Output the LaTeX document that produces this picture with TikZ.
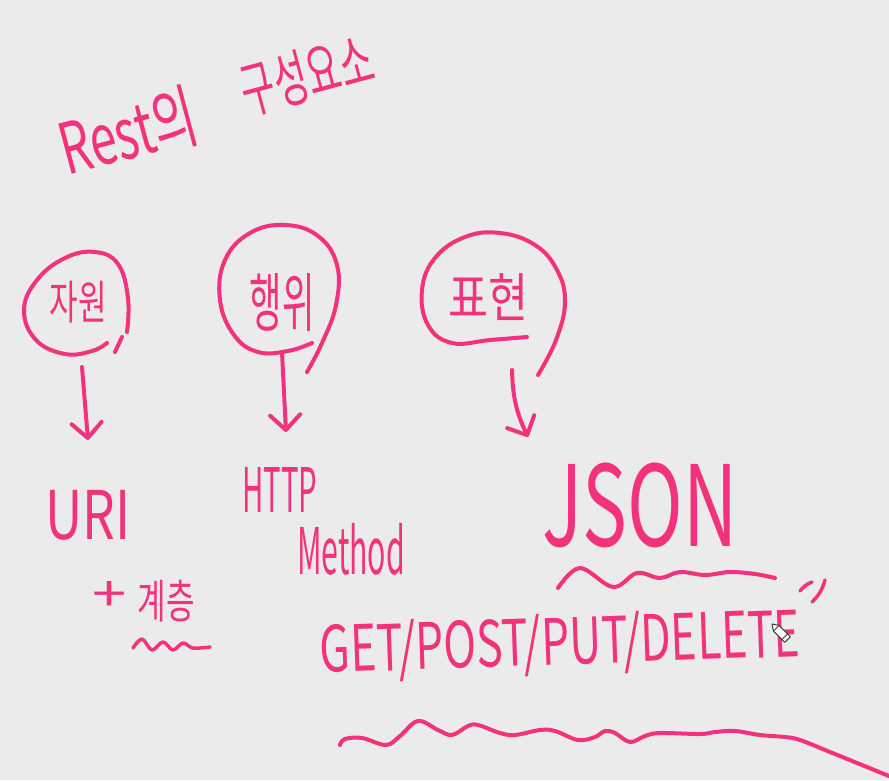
\documentclass[tikz,border=0pt]{standalone}
\usepackage{fontspec}
\setmainfont{Noto Sans CJK KR}
\usetikzlibrary{arrows.meta}
\definecolor{pen}{HTML}{F2337C}
\definecolor{paper}{HTML}{EBEBEB}
\newcommand\fitbox[3]{\resizebox*{#1pt}{#2pt}{#3}}
\begin{document}
\begin{tikzpicture}[x=1pt,y=-1pt,
  ink/.style={draw=pen, line width=4pt, line cap=round, line join=round},
  lbl/.style={text=pen, inner sep=0pt},
  vhead/.style={-{Straight Barb[length=15pt,width=30pt,round]}}]
\fill[paper] (0,0) rectangle (889,780);
\useasboundingbox (0,0) rectangle (889,780);

% title
\node[lbl, rotate=15] (t1) at (128,132) {\fitbox{140}{64}{Rest의}};
\node[lbl, rotate=15] (t2) at (307,75) {\fitbox{135}{55}{구성요소}};

% bubble labels
\node[lbl] (jaweon) at (78,302) {\fitbox{57}{42}{자원}};
\node[lbl] (haengwi) at (282,302) {\fitbox{65}{58}{행위}};
\node[lbl] (pyohyeon) at (488,297) {\fitbox{80}{47}{표현}};

% bubbles (open hand-drawn loops)
\draw[ink] plot[smooth, tension=0.7] coordinates {(127,332) (128,298) (118,264) (95,252) (65,258) (37,280) (24,310) (36,340) (65,354) (92,351) (107,343)};
\draw[ink] (122,337) -- (115,352);
\draw[ink] plot[smooth, tension=0.7] coordinates {(312,343) (288,351) (258,352) (234,335) (220,300) (225,260) (250,233) (285,225) (318,236) (337,265) (336,305) (322,343) (307,372)};
\draw[ink] plot[smooth, tension=0.7] coordinates {(527,337) (490,340) (452,343) (428,325) (422,290) (435,258) (465,237) (500,233) (535,245) (557,270) (565,302) (556,340) (538,375)};

% arrows
\coordinate (a1s) at (82,367);
\coordinate (a1e) at (88,440);
\coordinate (a2s) at (282,352);
\coordinate (a2e) at (286,432);
\coordinate (a3s) at (512,370);
\coordinate (a3e) at (528,437);
\draw[ink, vhead] (a1s) -- (a1e);
\draw[ink, vhead] (a2s) -- (a2e);
\draw[ink, vhead] (a3s) to[bend right=12] (a3e);

% targets
\node[lbl] (uri) at (88,515) {\fitbox{85}{50}{URI}};
\node[lbl] (http) at (280,490) {\fitbox{75}{45}{HTTP}};
\node[lbl] (method) at (351,549) {\fitbox{108}{52}{Method}};
\node[lbl] (json) at (640,505) {\fitbox{195}{85}{JSON}};
\node[lbl] (plus) at (110,596) {\fitbox{34}{30}{+}};
\node[lbl] (gyecheung) at (166,601) {\fitbox{57}{42}{계층}};
\node[lbl, rotate=2] (verbs) at (560,645) {\fitbox{480}{62}{GET/POST/PUT/DELETE}};

% underlines
\draw[ink] plot[smooth, tension=0.6] coordinates {(558,588) (580,568) (613,587) (637,573) (660,578) (680,572) (705,575) (730,572) (755,574) (775,578)};
\draw[ink, line width=3.5pt] plot[smooth, tension=0.6] coordinates {(133,648) (142,639) (152,650) (163,642) (173,650) (183,643) (193,648) (210,647)};
\draw[ink] plot[smooth, tension=0.6] coordinates {(340,745) (345,739) (362,738) (386,745) (400,736) (418,721) (438,730) (452,735) (468,726) (478,725) (500,733) (515,735) (540,730) (555,731) (578,740) (595,737) (605,731) (615,733) (630,742) (645,736) (660,733) (700,734) (715,732) (735,731) (760,735) (785,737) (800,740) (830,752) (889,776)};

% small marks
\draw[ink, line width=3.5pt] (800,591) to[bend left=15] (812,582);
\draw[ink, line width=3.5pt] (825,580) to[bend left=15] (812,602);

% pencil cursor
\draw[fill=white, draw=black!75, line width=1pt, line join=round, shift={(772,624)}, rotate=-45]
  (0,0) -- (6,-4) -- (22,-4) -- (22,4) -- (6,4) -- cycle;
\draw[draw=black!75, line width=1pt, shift={(772,624)}, rotate=-45] (6,-4) -- (6,4) (18,-4) -- (18,4);
\end{tikzpicture}
\end{document}
